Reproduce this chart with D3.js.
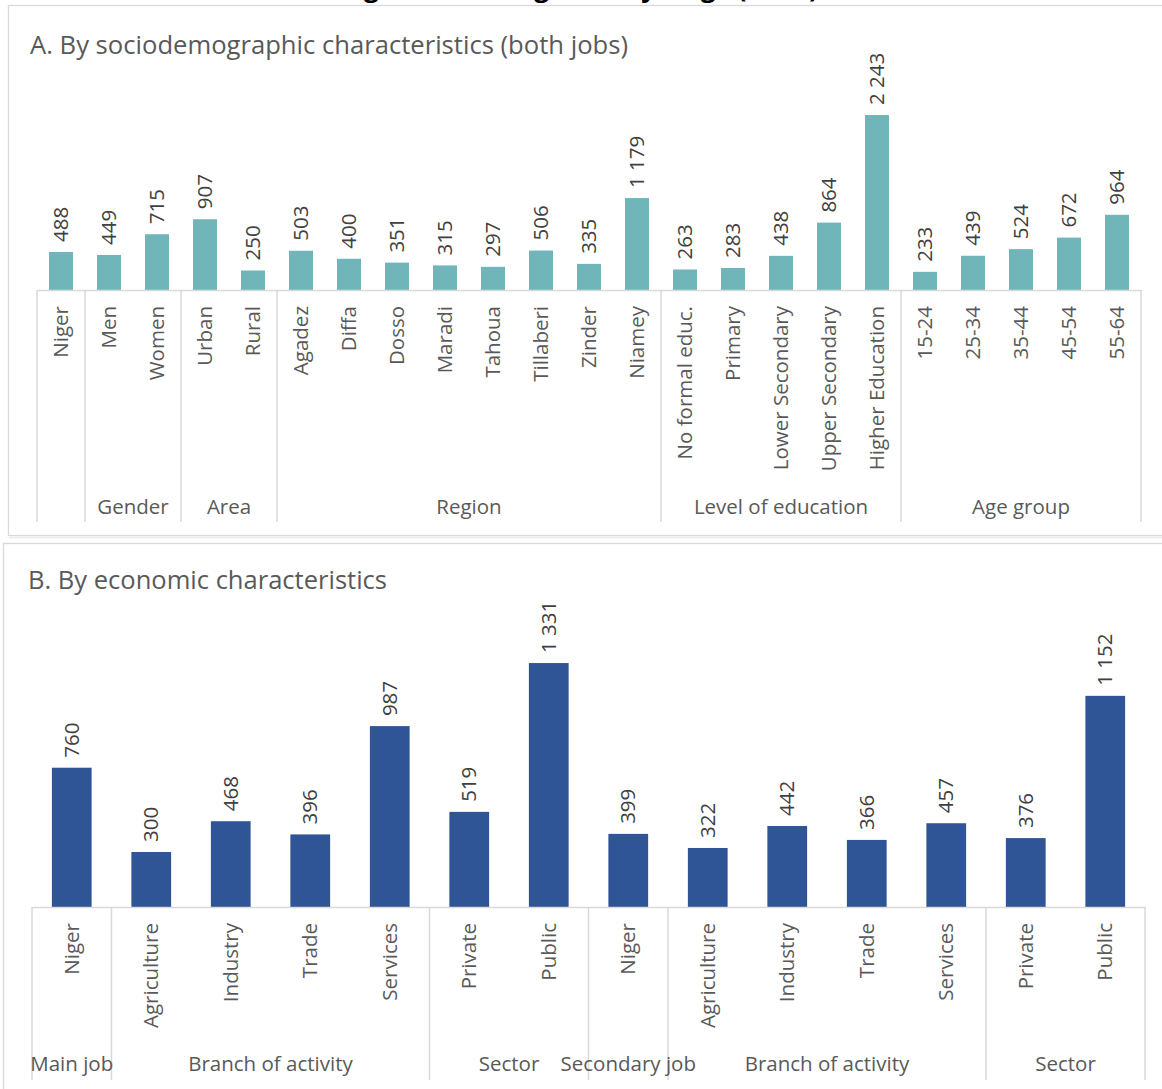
<!DOCTYPE html>
<html>
<head>
<meta charset="utf-8">
<script src="https://cdn.jsdelivr.net/npm/d3@7"></script>
<style>
  html, body { margin: 0; padding: 0; background: #ffffff; }
  svg { display: block; }
  text { font-family: "Open Sans", "Noto Sans", sans-serif; }
</style>
</head>
<body>
<svg id="chart" width="1162" height="1089"></svg>
<script>
// Panel A: average wage by sociodemographic characteristics (both jobs)
const categoriesA = ["Niger", "Men", "Women", "Urban", "Rural", "Agadez", "Diffa", "Dosso",
  "Maradi", "Tahoua", "Tillaberi", "Zinder", "Niamey", "No formal educ.", "Primary",
  "Lower Secondary", "Upper Secondary", "Higher Education", "15-24", "25-34", "35-44",
  "45-54", "55-64"];
const valuesA = [488, 449, 715, 907, 250, 503, 400, 351, 315, 297, 506, 335, 1179,
  263, 283, 438, 864, 2243, 233, 439, 524, 672, 964];
const groupNamesA = ["", "Gender", "Area", "Region", "Level of education", "Age group"];
const groupSizesA = [1, 2, 2, 8, 5, 5];

// Panel B: average wage by economic characteristics
const categoriesB = ["Niger", "Agriculture", "Industry", "Trade", "Services", "Private", "Public",
  "Niger", "Agriculture", "Industry", "Trade", "Services", "Private", "Public"];
const valuesB = [760, 300, 468, 396, 987, 519, 1331, 399, 322, 442, 366, 457, 376, 1152];
const groupNamesB = ["Main job", "Branch of activity", "Sector", "Secondary job", "Branch of activity", "Sector"];
const groupSizesB = [1, 4, 2, 1, 4, 2];

const fmt = d3.formatLocale({ decimal: ",", thousands: "\u00a0", grouping: [3], currency: ["", ""] }).format(",d");

const svg = d3.select("#chart");
const gridColor = "#d9d9d9";
const labelColor = "#595959";
const valueColor = "#404040";

// Figure title (runs off the top edge)
svg.append("text")
  .attr("x", 580).attr("y", -3)
  .attr("text-anchor", "middle")
  .attr("font-size", 26).attr("font-weight", "bold")
  .attr("fill", "#000")
  .text("Figure 5: Average hourly wage (FCFA)");

// Panel frames
svg.append("rect").attr("x", 8.5).attr("y", 5.5).attr("width", 1200).attr("height", 530)
  .attr("fill", "none").attr("stroke", gridColor).attr("stroke-width", 1.3);
svg.append("line").attr("x1", 9).attr("x2", 1162).attr("y1", 537.5).attr("y2", 537.5)
  .attr("stroke", "#ececec").attr("stroke-width", 2);
svg.append("rect").attr("x", 3.5).attr("y", 543.5).attr("width", 1200).attr("height", 600)
  .attr("fill", "none").attr("stroke", gridColor).attr("stroke-width", 1.3);

function drawPanel(cfg) {
  const g = svg.append("g");
  const n = cfg.categories.length;
  const x = d3.scaleBand()
    .domain(d3.range(n))
    .range([cfg.x0, cfg.x1])
    .paddingInner(0.5)
    .paddingOuter(0.25);
  const y = d3.scaleLinear().domain([0, cfg.yMax]).range([cfg.base, cfg.top]);
  const step = x.step();
  const slotLeft = i => cfg.x0 + i * step;

  // Panel title
  g.append("text")
    .attr("x", cfg.titleX).attr("y", cfg.titleY)
    .attr("font-size", 26).attr("fill", labelColor)
    .attr("textLength", cfg.titleWidth).attr("lengthAdjust", "spacingAndGlyphs")
    .text(cfg.title);

  // Bars
  g.selectAll("rect.bar").data(cfg.values).join("rect")
    .attr("class", "bar")
    .attr("x", (d, i) => x(i))
    .attr("width", x.bandwidth())
    .attr("y", d => y(d))
    .attr("height", d => y(0) - y(d))
    .attr("fill", cfg.color);

  // Value labels
  g.selectAll("text.val").data(cfg.values).join("text")
    .attr("class", "val")
    .attr("transform", (d, i) => `translate(${x(i) + x.bandwidth() / 2},${y(d) - 10}) rotate(-90)`)
    .attr("dy", "0.35em")
    .attr("font-size", cfg.fs)
    .attr("fill", valueColor)
    .text(d => fmt(d));

  // Category axis line
  g.append("line")
    .attr("x1", cfg.x0).attr("x2", cfg.x1)
    .attr("y1", cfg.base + 0.5).attr("y2", cfg.base + 0.5)
    .attr("stroke", gridColor).attr("stroke-width", 1.5);

  // Category labels
  g.selectAll("text.cat").data(cfg.categories).join("text")
    .attr("class", "cat")
    .attr("transform", (d, i) => `translate(${x(i) + x.bandwidth() / 2},${cfg.base + cfg.catOffset}) rotate(-90)`)
    .attr("text-anchor", "end")
    .attr("dy", "0.35em")
    .attr("font-size", cfg.fs)
    .attr("fill", labelColor)
    .text(d => d);

  // Group separators and group labels
  let start = 0;
  const bounds = [0];
  cfg.groupSizes.forEach(s => { start += s; bounds.push(start); });
  g.selectAll("line.sep").data(bounds).join("line")
    .attr("class", "sep")
    .attr("x1", b => slotLeft(b)).attr("x2", b => slotLeft(b))
    .attr("y1", cfg.base).attr("y2", cfg.sepBottom)
    .attr("stroke", gridColor).attr("stroke-width", 1.5);
  g.selectAll("text.grp").data(cfg.groupNames).join("text")
    .attr("class", "grp")
    .attr("x", (d, i) => (slotLeft(bounds[i]) + slotLeft(bounds[i + 1])) / 2)
    .attr("y", cfg.groupY)
    .attr("text-anchor", "middle")
    .attr("font-size", cfg.fs)
    .attr("fill", labelColor)
    .text(d => d);
}

drawPanel({
  categories: categoriesA, values: valuesA,
  groupNames: groupNamesA, groupSizes: groupSizesA,
  x0: 37, x1: 1141, base: 290, top: 95, yMax: 2500,
  color: "#6fb5b9", fs: 20.5,
  catOffset: 16, groupY: 514, sepBottom: 522,
  title: "A. By sociodemographic characteristics (both jobs)", titleX: 30, titleY: 54, titleWidth: 598
});

drawPanel({
  categories: categoriesB, values: valuesB,
  groupNames: groupNamesB, groupSizes: groupSizesB,
  x0: 32, x1: 1145, base: 907, top: 650.4, yMax: 1400,
  color: "#2f5597", fs: 20.5,
  catOffset: 16, groupY: 1071, sepBottom: 1080,
  title: "B. By economic characteristics", titleX: 28, titleY: 589, titleWidth: 359
});
</script>
</body>
</html>
